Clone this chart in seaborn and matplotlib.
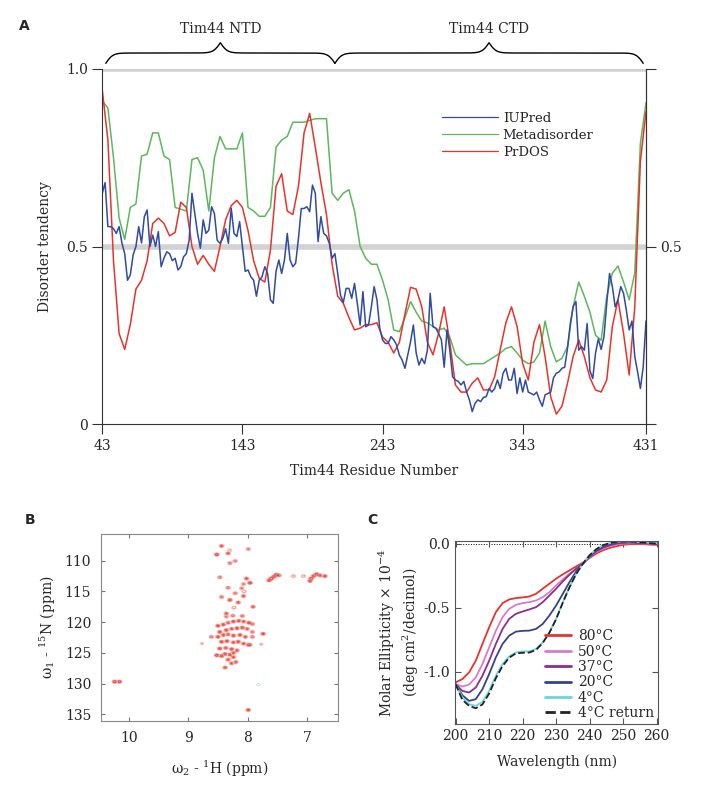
import numpy as np
import pandas as pd
import seaborn as sns
import matplotlib.pyplot as plt


# ---------- panel A: disorder predictions along Tim44 ----------
res_coarse = np.arange(43, 432, 4)
res_fine = np.arange(43, 432, 2)

prdos = [0.94, 0.80, 0.46, 0.255, 0.21, 0.28, 0.38, 0.405,
         0.46, 0.565, 0.58, 0.565, 0.53, 0.54, 0.625, 0.61,
         0.50, 0.45, 0.475, 0.45, 0.43, 0.50, 0.575, 0.615,
         0.63, 0.61, 0.545, 0.46, 0.41, 0.40, 0.49, 0.67,
         0.705, 0.60, 0.59, 0.67, 0.82, 0.875, 0.78, 0.68,
         0.59, 0.45, 0.36, 0.34, 0.30, 0.265, 0.27, 0.28,
         0.28, 0.285, 0.245, 0.23, 0.20, 0.23, 0.31, 0.385,
         0.38, 0.33, 0.23, 0.195, 0.255, 0.33, 0.23, 0.11,
         0.09, 0.09, 0.115, 0.13, 0.096, 0.096, 0.133, 0.21,
         0.285, 0.33, 0.275, 0.17, 0.124, 0.23, 0.28, 0.19,
         0.077, 0.028, 0.05, 0.115, 0.19, 0.237, 0.19, 0.13,
         0.096, 0.09, 0.124, 0.275, 0.35, 0.255, 0.138, 0.33,
         0.74, 0.88]

metadisorder = [0.91, 0.89, 0.75, 0.58, 0.52, 0.61, 0.62, 0.755,
                0.76, 0.82, 0.82, 0.755, 0.745, 0.61, 0.605, 0.60,
                0.745, 0.75, 0.715, 0.60, 0.75, 0.81, 0.775, 0.775,
                0.775, 0.82, 0.61, 0.60, 0.585, 0.585, 0.61, 0.78,
                0.80, 0.81, 0.85, 0.85, 0.85, 0.855, 0.86, 0.86,
                0.86, 0.65, 0.63, 0.65, 0.66, 0.60, 0.50, 0.467,
                0.45, 0.45, 0.405, 0.35, 0.265, 0.26, 0.30, 0.345,
                0.315, 0.29, 0.285, 0.275, 0.265, 0.27, 0.245, 0.195,
                0.18, 0.166, 0.17, 0.17, 0.17, 0.18, 0.19, 0.20,
                0.213, 0.218, 0.20, 0.18, 0.17, 0.175, 0.20, 0.29,
                0.218, 0.175, 0.185, 0.218, 0.33, 0.40, 0.36, 0.315,
                0.25, 0.236, 0.36, 0.425, 0.445, 0.40, 0.35, 0.425,
                0.79, 0.905]

iupred = [0.65, 0.68, 0.556, 0.556, 0.55, 0.537, 0.556, 0.51, 0.48, 0.405,
          0.42, 0.476, 0.50, 0.556, 0.51, 0.584, 0.603, 0.50, 0.532, 0.50,
          0.542, 0.443, 0.467, 0.485, 0.48, 0.46, 0.467, 0.434, 0.443, 0.471,
          0.48, 0.518, 0.65, 0.593, 0.537, 0.495, 0.575, 0.537, 0.546, 0.612,
          0.593, 0.518, 0.509, 0.523, 0.55, 0.509, 0.608, 0.537, 0.528, 0.57,
          0.50, 0.43, 0.434, 0.415, 0.405, 0.36, 0.405, 0.415, 0.443, 0.424,
          0.35, 0.34, 0.43, 0.462, 0.424, 0.462, 0.537, 0.462, 0.443, 0.453,
          0.523, 0.607, 0.607, 0.612, 0.598, 0.673, 0.65, 0.514, 0.584, 0.537,
          0.53, 0.509, 0.467, 0.48, 0.424, 0.363, 0.342, 0.382, 0.382, 0.354,
          0.396, 0.34, 0.279, 0.373, 0.274, 0.279, 0.33, 0.387, 0.35, 0.27,
          0.237, 0.227, 0.227, 0.246, 0.237, 0.223, 0.194, 0.18, 0.157, 0.194,
          0.232, 0.279, 0.20, 0.166, 0.185, 0.17, 0.208, 0.368, 0.274, 0.27,
          0.255, 0.237, 0.16, 0.265, 0.208, 0.133, 0.124, 0.12, 0.11, 0.12,
          0.09, 0.068, 0.035, 0.058, 0.068, 0.063, 0.075, 0.077, 0.10, 0.09,
          0.10, 0.124, 0.10, 0.143, 0.157, 0.124, 0.124, 0.157, 0.086, 0.13,
          0.09, 0.124, 0.09, 0.086, 0.082, 0.09, 0.068, 0.05, 0.082, 0.086,
          0.09, 0.13, 0.143, 0.147, 0.157, 0.16, 0.213, 0.283, 0.33, 0.345,
          0.208, 0.218, 0.208, 0.283, 0.15, 0.128, 0.20, 0.24, 0.21, 0.246,
          0.34, 0.424, 0.387, 0.33, 0.35, 0.387, 0.368, 0.32, 0.265, 0.29,
          0.19, 0.147, 0.10, 0.16, 0.29]

domain_names = ["Tim44 NTD", "Tim44 CTD"]
domain_edges = [45.5, 209, 429]

# ---------- panel B: 1H-15N HSQC peak list (H ppm, N ppm, height) ----------
hsqc_h = [10.24, 10.16, 8.44, 8.52, 8.33, 8.30, 7.99, 8.30, 8.21,
          8.47, 8.02, 7.96, 8.07, 8.10, 8.33, 8.06, 8.21, 8.44, 8.07, 8.30, 8.16, 7.91, 8.23,
          8.36, 8.36, 8.25, 8.09,
          8.50, 8.41, 8.33, 8.24, 8.15, 8.07, 7.98, 7.92,
          8.47, 8.36, 8.27, 8.18, 8.09, 8.01, 7.92,
          8.50, 8.41, 8.33, 8.24, 8.13, 8.04, 7.92,
          8.44, 8.35, 8.24, 8.16, 8.07, 7.99,
          8.47, 8.37, 8.27, 8.18,
          8.38, 8.30, 8.24, 8.44, 8.33, 8.24,
          8.27, 8.20, 8.38,
          8.61, 7.74, 7.96, 8.52, 7.99,
          8.77, 7.82, 7.77,
          7.64, 7.60, 7.56, 7.52, 7.47, 7.23, 7.06,
          6.95, 6.93, 6.89, 6.84, 6.78, 6.70]
hsqc_n = [129.7, 129.7, 107.6, 109.0, 108.8, 108.3, 108.1, 110.4, 110.05,
          112.7, 112.9, 113.6, 113.8, 114.5, 114.4, 115.0, 115.3, 115.9, 115.75, 116.4, 116.8, 117.5, 117.65,
          118.6, 119.1, 118.95, 119.0,
          120.6, 120.4, 120.1, 119.9, 119.8, 119.9, 120.1, 120.3,
          121.6, 121.3, 121.1, 121.0, 120.9, 121.1, 121.6,
          122.4, 122.1, 122.0, 122.2, 122.1, 122.4, 122.4,
          123.2, 123.1, 123.3, 123.2, 123.5, 123.7,
          124.3, 124.2, 124.4, 124.6,
          125.2, 125.3, 125.0, 125.5, 126.1, 125.7,
          126.7, 126.5, 127.4,
          122.4, 121.9, 123.7, 125.4, 134.3,
          123.5, 130.2, 123.6,
          113.2, 112.9, 112.6, 112.3, 112.4, 112.5, 112.5,
          113.3, 112.9, 112.5, 112.2, 112.4, 112.5]
hsqc_amp = [1.0, 1.0, 0.8, 1.0, 0.8, 0.4, 0.6, 0.7, 0.6,
            0.7, 0.8, 1.0, 0.6, 0.6, 0.7, 0.5, 0.7, 0.7, 0.8, 0.9, 0.8, 0.8, 0.5,
            0.8, 0.6, 0.7, 0.7,
            0.9, 0.9, 0.8, 0.9, 0.9, 0.8, 0.9, 0.7,
            0.9, 0.9, 0.8, 0.9, 0.9, 0.8, 0.7,
            0.9, 0.9, 0.8, 0.9, 0.9, 0.8, 0.7,
            0.9, 0.9, 0.8, 0.9, 0.8, 0.7,
            0.9, 0.8, 0.9, 0.8,
            0.9, 0.9, 0.8, 1.0, 0.8, 0.8,
            0.8, 0.8, 0.8,
            0.7, 0.9, 0.6, 1.0, 0.9,
            0.3, 0.25, 0.3,
            0.9, 1.0, 0.9, 1.0, 0.7, 0.5, 0.5,
            0.9, 1.0, 0.9, 1.0, 0.8, 0.9]

# ---------- panel C: CD spectra ----------
wavelength = np.arange(200, 261, 2)
cd_80 = [-1.083, -1.057, -1.005, -0.914, -0.783, -0.653, -0.535, -0.465, -0.436, -0.425,
         -0.42, -0.413, -0.392, -0.352, -0.313, -0.274, -0.24, -0.209, -0.178, -0.149,
         -0.112, -0.078, -0.052, -0.034, -0.021, -0.01, -0.005, -0.005, -0.005, -0.008, -0.01]
cd_50 = [-1.097, -1.115, -1.10, -1.044, -0.94, -0.81, -0.68, -0.574, -0.509, -0.478,
         -0.465, -0.457, -0.444, -0.418, -0.379, -0.326, -0.28, -0.235, -0.196, -0.154,
         -0.107, -0.065, -0.039, -0.021, -0.008, 0.0, 0.002, 0.002, 0.0, -0.003, -0.005]
cd_37 = [-1.097, -1.149, -1.162, -1.123, -1.031, -0.914, -0.783, -0.666, -0.587, -0.548,
         -0.53, -0.514, -0.496, -0.457, -0.405, -0.352, -0.295, -0.243, -0.196, -0.157,
         -0.104, -0.06, -0.031, -0.013, 0.0, 0.005, 0.008, 0.005, 0.003, 0.0, -0.003]
cd_20 = [-1.097, -1.183, -1.227, -1.214, -1.136, -1.018, -0.888, -0.783, -0.718, -0.687,
         -0.681, -0.679, -0.666, -0.627, -0.561, -0.483, -0.392, -0.30, -0.217, -0.157,
         -0.097, -0.052, -0.021, -0.003, 0.008, 0.013, 0.013, 0.01, 0.008, 0.003, 0.0]
cd_4 = [-1.097, -1.20, -1.253, -1.266, -1.235, -1.149, -1.031, -0.94, -0.88, -0.849,
        -0.841, -0.841, -0.822, -0.77, -0.692, -0.587, -0.457, -0.339, -0.235, -0.157,
        -0.091, -0.044, -0.013, 0.003, 0.013, 0.016, 0.016, 0.013, 0.01, 0.005, 0.003]
cd_4_return = [-1.097, -1.22, -1.265, -1.285, -1.255, -1.17, -1.05, -0.955, -0.89, -0.856,
               -0.852, -0.85, -0.83, -0.775, -0.695, -0.59, -0.46, -0.34, -0.236, -0.157,
               -0.091, -0.044, -0.013, 0.003, 0.013, 0.016, 0.016, 0.013, 0.008, 0.003, 0.0]
cd_labels = ["80°C", "50°C", "37°C", "20°C", "4°C", "4°C return"]
cd_colors = ["#e8322c", "#d67ccd", "#8a2f8e", "#34428f", "#6fd3dc", "#222222"]


def draw_brace(ax, x0, x1, y0, h, beta=0.4):
    half = np.linspace(x0, (x0 + x1) / 2, 200)
    yh = (1 / (1 + np.exp(-beta * (half - half[0])))
          + 1 / (1 + np.exp(-beta * (half - half[-1]))))
    xs = np.concatenate([half, x0 + x1 - half[::-1]])
    ys = np.concatenate([yh, yh[::-1]])
    ax.plot(xs, y0 + (ys - 0.5) * h, color="black", lw=1, clip_on=False)


sns.set_style("ticks")
plt.rcParams["font.family"] = ["DejaVu Serif"]
plt.rcParams["mathtext.fontset"] = "dejavuserif"
plt.rcParams["axes.unicode_minus"] = False

fig = plt.figure(figsize=(7.03, 7.93), dpi=100)
ax_a = fig.add_axes([0.1455, 0.4653, 0.7734, 0.4477])
ax_b = fig.add_axes([0.1437, 0.0908, 0.337, 0.2358])
ax_c = fig.add_axes([0.6472, 0.0866, 0.2892, 0.2312])

# ----- A -----
ax_a.axhline(1.0, color="#d2d2d2", lw=4, zorder=0)
ax_a.axhline(0.5, color="#d2d2d2", lw=4, zorder=0)
sns.lineplot(x=res_coarse, y=metadisorder, color="#5cb85c", lw=1.1, ax=ax_a,
             label="Metadisorder", estimator=None)
sns.lineplot(x=res_coarse, y=prdos, color="#e8332a", lw=1.1, ax=ax_a,
             label="PrDOS", estimator=None)
sns.lineplot(x=res_fine, y=iupred, color="#2f4ba3", lw=1.1, ax=ax_a,
             label="IUPred", estimator=None)
handles, labels = ax_a.get_legend_handles_labels()
order = [labels.index(n) for n in ["IUPred", "Metadisorder", "PrDOS"]]
leg = ax_a.legend([handles[i] for i in order], [labels[i] for i in order],
                  loc="upper left", bbox_to_anchor=(0.625, 0.88), frameon=False,
                  fontsize=9.5, handlelength=4.2, handletextpad=0.4,
                  labelspacing=0.3, borderaxespad=0, borderpad=0)
for line in leg.get_lines():
    line.set_linewidth(0.9)

ax_a.set_xlim(43, 431)
ax_a.set_ylim(0, 1)
ax_a.set_xticks([43, 143, 243, 343, 431])
ax_a.set_yticks([0, 0.5, 1.0])
ax_a.set_yticklabels(["0", "0.5", "1.0"])
ax_a.tick_params(direction="out", length=7, color="#333333", labelsize=10)
ax_a.spines["top"].set_visible(False)
for s in ["left", "bottom", "right"]:
    ax_a.spines[s].set_color("#333333")
ax_a.set_xlabel("Tim44 Residue Number", fontsize=10, labelpad=8)
ax_a.set_ylabel("Disorder tendency", fontsize=10, labelpad=10)

ax_r = ax_a.twinx()
ax_r.set_ylim(0, 1)
ax_r.set_yticks([0, 0.5, 1.0])
ax_r.set_yticklabels(["", "0.5", ""])
ax_r.tick_params(direction="out", length=7, color="#333333", labelsize=10)
for s in ["top", "left", "bottom"]:
    ax_r.spines[s].set_visible(False)
ax_r.spines["right"].set_color("#333333")

for name, lo, hi in zip(domain_names, domain_edges[:-1], domain_edges[1:]):
    draw_brace(ax_a, lo, hi, 1.016, 0.058)
    ax_a.text((lo + hi) / 2, 1.112, name, ha="center", va="center", fontsize=10)

# ----- B -----
h_grid = np.linspace(6.3, 10.6, 900)
n_grid = np.linspace(104, 137.5, 900)
HH, NN = np.meshgrid(h_grid, n_grid)
spec = np.zeros_like(HH)
for h, n, a in zip(hsqc_h, hsqc_n, hsqc_amp):
    spec += a * np.exp(-0.5 * ((HH - h) / 0.022) ** 2 - 0.5 * ((NN - n) / 0.14) ** 2)
ax_b.contour(HH, NN, spec, levels=[0.1, 0.25, 0.5, 0.75],
             colors=["#f8bdb8", "#f08a82", "#e8554b", "#dc3a31"], linewidths=0.5)
ax_b.set_xlim(10.47, 6.48)
ax_b.set_ylim(136.1, 105.65)
ax_b.set_xticks([10, 9, 8, 7])
ax_b.set_yticks([110, 115, 120, 125, 130, 135])
ax_b.tick_params(direction="in", length=3, color="#777777", labelsize=10,
                 top=True, right=True, pad=7)
for s in ax_b.spines.values():
    s.set_color("#888888")
ax_b.set_xlabel("ω$_2$ - $^1$H (ppm)", fontsize=10, labelpad=10)
ax_b.set_ylabel("ω$_1$ - $^{15}$N (ppm)", fontsize=10, labelpad=5)

# ----- C -----
cd_values = [cd_80, cd_50, cd_37, cd_20, cd_4, cd_4_return]
for vals, lab, col in zip(cd_values, cd_labels, cd_colors):
    ls = "--" if "return" in lab else "-"
    sns.lineplot(x=wavelength, y=vals, color=col, lw=1.3, ls=ls, label=lab,
                 ax=ax_c, estimator=None)
ax_c.axhline(0, color="black", ls=":", lw=0.7, zorder=0)
leg_c = ax_c.legend(loc="lower right", frameon=False, fontsize=10,
                    handlelength=1.9, handletextpad=0.5, labelspacing=0.1,
                    borderaxespad=0.3, borderpad=0)
for line in leg_c.get_lines():
    line.set_linewidth(2)
ax_c.set_xlim(199.8, 260.5)
ax_c.set_ylim(-1.41, 0.02)
ax_c.set_xticks(range(200, 261, 10))
ax_c.set_yticks([0.0, -0.5, -1.0])
ax_c.set_yticklabels(["0.0", "-0.5", "-1.0"])
ax_c.tick_params(direction="in", length=4, color="#555555", labelsize=10,
                 top=True, right=True)
for s in ax_c.spines.values():
    s.set_color("#555555")
ax_c.set_xlabel("Wavelength (nm)", fontsize=10, labelpad=8)
ax_c.set_ylabel("Molar Ellipticity × 10$^{-4}$\n(deg cm$^2$/decimol)", fontsize=10,
                labelpad=2)

for letter, x, y in [("A", 0.034, 0.967), ("B", 0.043, 0.344), ("C", 0.529, 0.344)]:
    fig.text(x, y, letter, ha="center", va="center", fontsize=10,
             fontweight="bold", family="DejaVu Sans")

fig.savefig("out.png", dpi=100)
